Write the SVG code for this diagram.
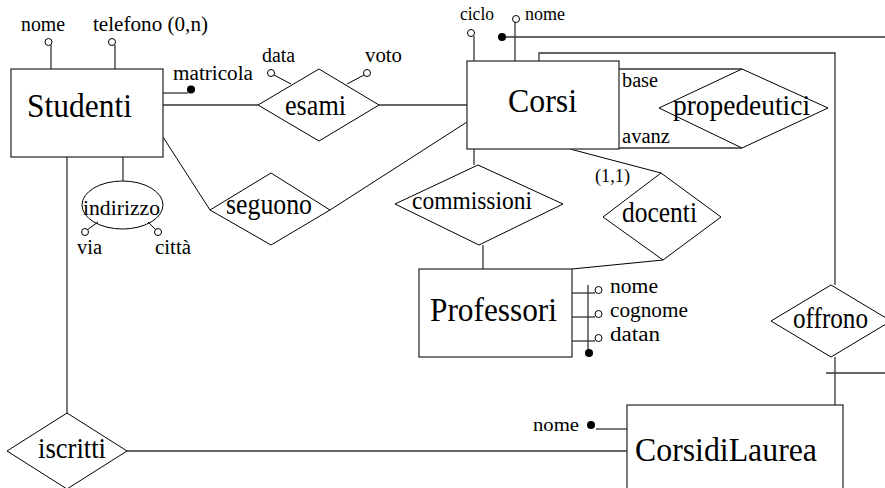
<svg xmlns="http://www.w3.org/2000/svg" width="885" height="488" viewBox="0 0 885 488">
<style>
.ent{fill:#fff;stroke:#333;stroke-width:1.3}
.rel{fill:#fff;stroke:#000;stroke-width:1}
.ln{fill:none;stroke:#333;stroke-width:1.3}
.thin{fill:none;stroke:#000;stroke-width:1}
.oc{fill:#fff;stroke:#000;stroke-width:1}
.fd{fill:#000}
</style>
<rect width="885" height="488" fill="#fff"/>
<g font-family="Liberation Serif" fill="#000">
<g id="connectors">
<line class="ln" x1="163" y1="105" x2="258" y2="105"/>
<line class="ln" x1="379" y1="105" x2="467" y2="105"/>
<line class="thin" x1="163" y1="137" x2="210" y2="210"/>
<line class="thin" x1="330" y1="210" x2="467" y2="122"/>
<line class="ln" x1="123" y1="157" x2="123" y2="181"/>
<line class="ln" x1="67" y1="157" x2="67" y2="413"/>
<line class="ln" x1="127" y1="451" x2="627" y2="451"/>
<line class="ln" x1="474" y1="149" x2="474" y2="165"/>
<line class="ln" x1="483" y1="245" x2="483" y2="269"/>
<line class="thin" x1="570" y1="149" x2="661" y2="173"/>
<line class="thin" x1="663" y1="260" x2="572" y2="269"/>
<polyline class="ln" points="619,69 742,69"/>
<polyline class="ln" points="619,148 742,148"/>
<polyline class="ln" points="539,61 539,53 835,53 835,285"/>
<line class="ln" x1="835" y1="357" x2="835" y2="405"/>
<line class="ln" x1="826" y1="373" x2="885" y2="373"/>
<line class="ln" x1="506" y1="37" x2="885" y2="37"/>
</g>
<g id="Studenti">
<rect class="ent" x="11" y="69" width="152" height="88"/>
<text font-size="33" x="27" y="117" textLength="105" lengthAdjust="spacingAndGlyphs">Studenti</text>
</g>
<g id="Studenti-nome">
<line class="ln" x1="51" y1="45" x2="51" y2="69"/>
<circle class="oc" cx="48.5" cy="42" r="3.5"/>
<text font-size="20" x="21" y="31" textLength="44" lengthAdjust="spacingAndGlyphs">nome</text>
</g>
<g id="Studenti-telefono">
<line class="ln" x1="115" y1="45" x2="115" y2="69"/>
<circle class="oc" cx="112" cy="42" r="3.5"/>
<text font-size="20" x="93" y="31" textLength="115" lengthAdjust="spacingAndGlyphs">telefono (0,n)</text>
</g>
<g id="Studenti-matricola">
<line class="ln" x1="163" y1="93" x2="188" y2="93"/>
<circle class="fd" cx="191" cy="89.5" r="4"/>
<text font-size="20" x="173" y="80" textLength="80" lengthAdjust="spacingAndGlyphs">matricola</text>
</g>
<g id="indirizzo">
<ellipse class="thin" cx="122.5" cy="205" rx="40.5" ry="24"/>
<text font-size="22" x="83" y="215" textLength="77" lengthAdjust="spacingAndGlyphs">indirizzo</text>
<line class="thin" x1="98" y1="222" x2="87" y2="230"/>
<circle class="oc" cx="85" cy="232" r="3.5"/>
<text font-size="20" x="77" y="254" textLength="25" lengthAdjust="spacingAndGlyphs">via</text>
<line class="thin" x1="148" y1="222" x2="156" y2="230"/>
<circle class="oc" cx="158" cy="232" r="3.5"/>
<text font-size="20" x="155" y="254" textLength="36" lengthAdjust="spacingAndGlyphs">città</text>
</g>
<g id="esami">
<polygon class="rel" points="258,105 319,69 379,105 319,141"/>
<text font-size="29" x="285" y="115" textLength="61" lengthAdjust="spacingAndGlyphs">esami</text>
<line class="thin" x1="291" y1="84" x2="274" y2="75"/>
<circle class="oc" cx="271" cy="73" r="3.5"/>
<text font-size="20" x="262" y="62" textLength="33" lengthAdjust="spacingAndGlyphs">data</text>
<line class="thin" x1="347" y1="84" x2="364" y2="75"/>
<circle class="oc" cx="367" cy="73" r="3.5"/>
<text font-size="20" x="365" y="62" textLength="37" lengthAdjust="spacingAndGlyphs">voto</text>
</g>
<g id="seguono">
<polygon class="rel" points="210,210 271,173 330,210 271,245"/>
<text font-size="29" x="226" y="214" textLength="86" lengthAdjust="spacingAndGlyphs">seguono</text>
</g>
<g id="Corsi">
<rect class="ent" x="467" y="61" width="152" height="88"/>
<text font-size="33" x="508" y="112" textLength="69" lengthAdjust="spacingAndGlyphs">Corsi</text>
<line class="ln" x1="474" y1="36" x2="474" y2="61"/>
<circle class="oc" cx="471" cy="33" r="3.5"/>
<text font-size="18" x="460" y="20" textLength="34" lengthAdjust="spacingAndGlyphs">ciclo</text>
<line class="ln" x1="515" y1="22" x2="515" y2="61"/>
<circle class="oc" cx="516" cy="19" r="3.5"/>
<text font-size="18" x="525" y="20" textLength="40" lengthAdjust="spacingAndGlyphs">nome</text>
<circle class="fd" cx="502" cy="37" r="4"/>
</g>
<g id="propedeutici">
<polygon class="rel" points="659,108 742,69 828,108 742,148"/>
<text font-size="29" x="673" y="115" textLength="137" lengthAdjust="spacingAndGlyphs">propedeutici</text>
<text font-size="20" x="622" y="87" textLength="36" lengthAdjust="spacingAndGlyphs">base</text>
<text font-size="20" x="622" y="143" textLength="48" lengthAdjust="spacingAndGlyphs">avanz</text>
</g>
<g id="commissioni">
<polygon class="rel" points="395,204 478,165 563,204 479,245"/>
<text font-size="25" x="412" y="209" textLength="120" lengthAdjust="spacingAndGlyphs">commissioni</text>
</g>
<g id="docenti">
<polygon class="rel" points="603,217 661,173 721,217 663,260"/>
<text font-size="29" x="622" y="222" textLength="75" lengthAdjust="spacingAndGlyphs">docenti</text>
<text font-size="19" x="595" y="182" textLength="35" lengthAdjust="spacingAndGlyphs">(1,1)</text>
</g>
<g id="Professori">
<rect class="ent" x="419" y="269" width="153" height="88"/>
<text font-size="33" x="430" y="321" textLength="127" lengthAdjust="spacingAndGlyphs">Professori</text>
<line class="ln" x1="588" y1="285" x2="588" y2="351"/>
<circle class="fd" cx="589" cy="353" r="4"/>
<line class="ln" x1="572" y1="293" x2="595" y2="293"/>
<line class="ln" x1="572" y1="317" x2="595" y2="317"/>
<line class="ln" x1="572" y1="341" x2="595" y2="341"/>
<circle class="oc" cx="598.5" cy="290" r="3.5"/>
<circle class="oc" cx="598.5" cy="314" r="3.5"/>
<circle class="oc" cx="598.5" cy="338" r="3.5"/>
<text font-size="20" x="610" y="293" textLength="48" lengthAdjust="spacingAndGlyphs">nome</text>
<text font-size="20" x="610" y="317" textLength="78" lengthAdjust="spacingAndGlyphs">cognome</text>
<text font-size="20" x="610" y="341" textLength="50" lengthAdjust="spacingAndGlyphs">datan</text>
</g>
<g id="offrono">
<polygon class="rel" points="771,321 831,285 891,321 831,357"/>
<text font-size="29" x="793" y="328" textLength="75" lengthAdjust="spacingAndGlyphs">offrono</text>
</g>
<g id="iscritti">
<polygon class="rel" points="7,451 67,413 127,451 67,489"/>
<text font-size="29" x="38" y="458" textLength="68" lengthAdjust="spacingAndGlyphs">iscritti</text>
</g>
<g id="CorsidiLaurea">
<rect class="ent" x="627" y="405" width="216" height="100"/>
<text font-size="34" x="635" y="461" textLength="182" lengthAdjust="spacingAndGlyphs">CorsidiLaurea</text>
<line class="ln" x1="596" y1="429" x2="627" y2="429"/>
<circle class="fd" cx="591" cy="425" r="4"/>
<text font-size="18" x="533" y="431" textLength="46" lengthAdjust="spacingAndGlyphs">nome</text>
</g>
</g>
</svg>
